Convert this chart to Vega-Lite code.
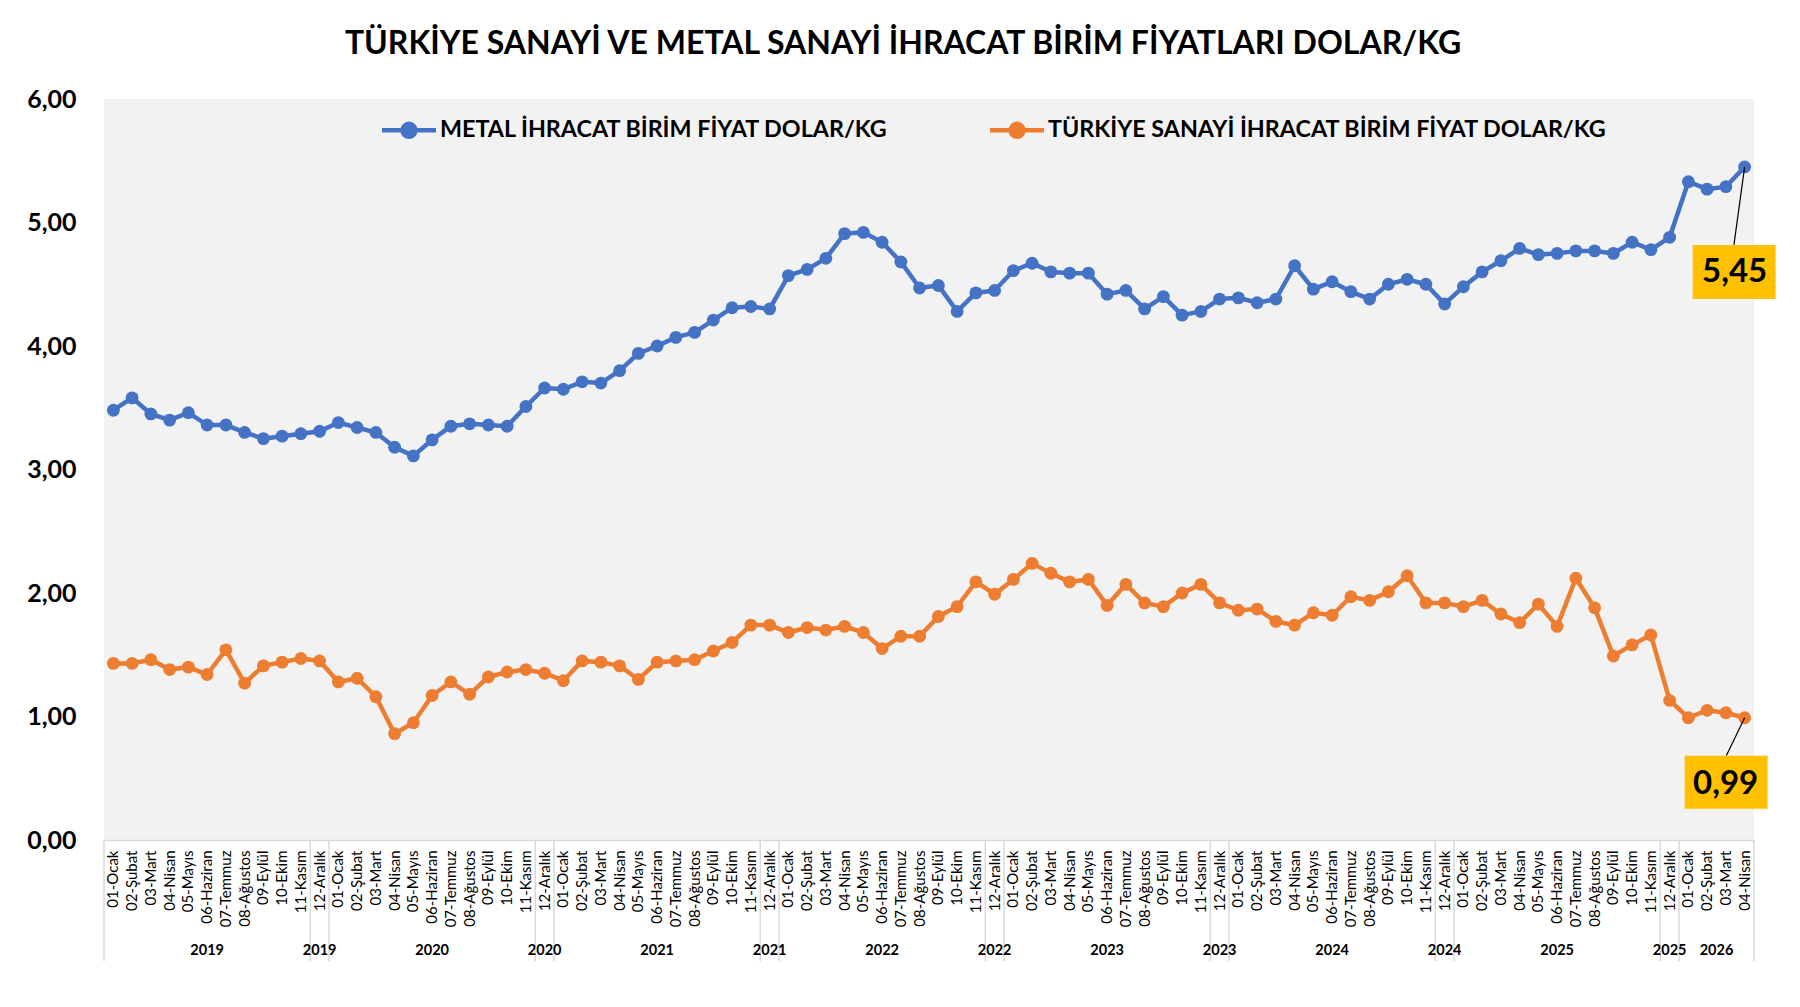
{
  "$schema": "https://vega.github.io/schema/vega-lite/v6.json",
  "autosize": {"type": "none"},
  "width": 1650,
  "height": 741,
  "padding": {"left": 104, "top": 99, "right": 46, "bottom": 167},
  "background": "white",
  "title": {
    "text": "TÜRKİYE SANAYİ VE METAL SANAYİ İHRACAT BİRİM FİYATLARI DOLAR/KG",
    "font": "Lato", "fontSize": 32, "fontWeight": "bold", "color": "#000000",
    "anchor": "middle", "offset": 26, "dx": -26
  },
  "config": {
    "locale": {"number": {"decimal": ",", "thousands": ".", "grouping": [3], "currency": ["", " TL"]}},
    "view": {"fill": "#F2F2F2", "stroke": null},
    "font": "Lato"
  },
  "datasets": {
    "veri": [
      {"ay": "2019-01-Ocak", "metal": 3.48, "sanayi": 1.43},
      {"ay": "2019-02-Şubat", "metal": 3.58, "sanayi": 1.43},
      {"ay": "2019-03-Mart", "metal": 3.45, "sanayi": 1.46},
      {"ay": "2019-04-Nisan", "metal": 3.40, "sanayi": 1.38},
      {"ay": "2019-05-Mayıs", "metal": 3.46, "sanayi": 1.40},
      {"ay": "2019-06-Haziran", "metal": 3.36, "sanayi": 1.34},
      {"ay": "2019-07-Temmuz", "metal": 3.36, "sanayi": 1.54},
      {"ay": "2019-08-Ağustos", "metal": 3.30, "sanayi": 1.27},
      {"ay": "2019-09-Eylül", "metal": 3.25, "sanayi": 1.41},
      {"ay": "2019-10-Ekim", "metal": 3.27, "sanayi": 1.44},
      {"ay": "2019-11-Kasım", "metal": 3.29, "sanayi": 1.47},
      {"ay": "2019-12-Aralık", "metal": 3.31, "sanayi": 1.45},
      {"ay": "2020-01-Ocak", "metal": 3.38, "sanayi": 1.28},
      {"ay": "2020-02-Şubat", "metal": 3.34, "sanayi": 1.31},
      {"ay": "2020-03-Mart", "metal": 3.30, "sanayi": 1.16},
      {"ay": "2020-04-Nisan", "metal": 3.18, "sanayi": 0.86},
      {"ay": "2020-05-Mayıs", "metal": 3.11, "sanayi": 0.95},
      {"ay": "2020-06-Haziran", "metal": 3.24, "sanayi": 1.17},
      {"ay": "2020-07-Temmuz", "metal": 3.35, "sanayi": 1.28},
      {"ay": "2020-08-Ağustos", "metal": 3.37, "sanayi": 1.18},
      {"ay": "2020-09-Eylül", "metal": 3.36, "sanayi": 1.32},
      {"ay": "2020-10-Ekim", "metal": 3.35, "sanayi": 1.36},
      {"ay": "2020-11-Kasım", "metal": 3.51, "sanayi": 1.38},
      {"ay": "2020-12-Aralık", "metal": 3.66, "sanayi": 1.35},
      {"ay": "2021-01-Ocak", "metal": 3.65, "sanayi": 1.29},
      {"ay": "2021-02-Şubat", "metal": 3.71, "sanayi": 1.45},
      {"ay": "2021-03-Mart", "metal": 3.70, "sanayi": 1.44},
      {"ay": "2021-04-Nisan", "metal": 3.80, "sanayi": 1.41},
      {"ay": "2021-05-Mayıs", "metal": 3.94, "sanayi": 1.30},
      {"ay": "2021-06-Haziran", "metal": 4.00, "sanayi": 1.44},
      {"ay": "2021-07-Temmuz", "metal": 4.07, "sanayi": 1.45},
      {"ay": "2021-08-Ağustos", "metal": 4.11, "sanayi": 1.46},
      {"ay": "2021-09-Eylül", "metal": 4.21, "sanayi": 1.53},
      {"ay": "2021-10-Ekim", "metal": 4.31, "sanayi": 1.60},
      {"ay": "2021-11-Kasım", "metal": 4.32, "sanayi": 1.74},
      {"ay": "2021-12-Aralık", "metal": 4.30, "sanayi": 1.74},
      {"ay": "2022-01-Ocak", "metal": 4.57, "sanayi": 1.68},
      {"ay": "2022-02-Şubat", "metal": 4.62, "sanayi": 1.72},
      {"ay": "2022-03-Mart", "metal": 4.71, "sanayi": 1.70},
      {"ay": "2022-04-Nisan", "metal": 4.91, "sanayi": 1.73},
      {"ay": "2022-05-Mayıs", "metal": 4.92, "sanayi": 1.68},
      {"ay": "2022-06-Haziran", "metal": 4.84, "sanayi": 1.55},
      {"ay": "2022-07-Temmuz", "metal": 4.68, "sanayi": 1.65},
      {"ay": "2022-08-Ağustos", "metal": 4.47, "sanayi": 1.65},
      {"ay": "2022-09-Eylül", "metal": 4.49, "sanayi": 1.81},
      {"ay": "2022-10-Ekim", "metal": 4.28, "sanayi": 1.89},
      {"ay": "2022-11-Kasım", "metal": 4.43, "sanayi": 2.09},
      {"ay": "2022-12-Aralık", "metal": 4.45, "sanayi": 1.99},
      {"ay": "2023-01-Ocak", "metal": 4.61, "sanayi": 2.11},
      {"ay": "2023-02-Şubat", "metal": 4.67, "sanayi": 2.24},
      {"ay": "2023-03-Mart", "metal": 4.60, "sanayi": 2.16},
      {"ay": "2023-04-Nisan", "metal": 4.59, "sanayi": 2.09},
      {"ay": "2023-05-Mayıs", "metal": 4.59, "sanayi": 2.11},
      {"ay": "2023-06-Haziran", "metal": 4.42, "sanayi": 1.90},
      {"ay": "2023-07-Temmuz", "metal": 4.45, "sanayi": 2.07},
      {"ay": "2023-08-Ağustos", "metal": 4.30, "sanayi": 1.92},
      {"ay": "2023-09-Eylül", "metal": 4.40, "sanayi": 1.89},
      {"ay": "2023-10-Ekim", "metal": 4.25, "sanayi": 2.00},
      {"ay": "2023-11-Kasım", "metal": 4.28, "sanayi": 2.07},
      {"ay": "2023-12-Aralık", "metal": 4.38, "sanayi": 1.92},
      {"ay": "2024-01-Ocak", "metal": 4.39, "sanayi": 1.86},
      {"ay": "2024-02-Şubat", "metal": 4.35, "sanayi": 1.87},
      {"ay": "2024-03-Mart", "metal": 4.38, "sanayi": 1.77},
      {"ay": "2024-04-Nisan", "metal": 4.65, "sanayi": 1.74},
      {"ay": "2024-05-Mayıs", "metal": 4.46, "sanayi": 1.84},
      {"ay": "2024-06-Haziran", "metal": 4.52, "sanayi": 1.82},
      {"ay": "2024-07-Temmuz", "metal": 4.44, "sanayi": 1.97},
      {"ay": "2024-08-Ağustos", "metal": 4.38, "sanayi": 1.94},
      {"ay": "2024-09-Eylül", "metal": 4.50, "sanayi": 2.01},
      {"ay": "2024-10-Ekim", "metal": 4.54, "sanayi": 2.14},
      {"ay": "2024-11-Kasım", "metal": 4.50, "sanayi": 1.92},
      {"ay": "2024-12-Aralık", "metal": 4.34, "sanayi": 1.92},
      {"ay": "2025-01-Ocak", "metal": 4.48, "sanayi": 1.89},
      {"ay": "2025-02-Şubat", "metal": 4.60, "sanayi": 1.94},
      {"ay": "2025-03-Mart", "metal": 4.69, "sanayi": 1.83},
      {"ay": "2025-04-Nisan", "metal": 4.79, "sanayi": 1.76},
      {"ay": "2025-05-Mayıs", "metal": 4.74, "sanayi": 1.91},
      {"ay": "2025-06-Haziran", "metal": 4.75, "sanayi": 1.73},
      {"ay": "2025-07-Temmuz", "metal": 4.77, "sanayi": 2.12},
      {"ay": "2025-08-Ağustos", "metal": 4.77, "sanayi": 1.88},
      {"ay": "2025-09-Eylül", "metal": 4.75, "sanayi": 1.49},
      {"ay": "2025-10-Ekim", "metal": 4.84, "sanayi": 1.58},
      {"ay": "2025-11-Kasım", "metal": 4.78, "sanayi": 1.66},
      {"ay": "2025-12-Aralık", "metal": 4.88, "sanayi": 1.13},
      {"ay": "2026-01-Ocak", "metal": 5.33, "sanayi": 0.99},
      {"ay": "2026-02-Şubat", "metal": 5.27, "sanayi": 1.05},
      {"ay": "2026-03-Mart", "metal": 5.29, "sanayi": 1.03},
      {"ay": "2026-04-Nisan", "metal": 5.45, "sanayi": 0.99}
    ],
    "yillar": [
      {"yil": "2019", "ay": "2019-06-Haziran"},
      {"yil": "2019", "ay": "2019-12-Aralık"},
      {"yil": "2020", "ay": "2020-06-Haziran"},
      {"yil": "2020", "ay": "2020-12-Aralık"},
      {"yil": "2021", "ay": "2021-06-Haziran"},
      {"yil": "2021", "ay": "2021-12-Aralık"},
      {"yil": "2022", "ay": "2022-06-Haziran"},
      {"yil": "2022", "ay": "2022-12-Aralık"},
      {"yil": "2023", "ay": "2023-06-Haziran"},
      {"yil": "2023", "ay": "2023-12-Aralık"},
      {"yil": "2024", "ay": "2024-06-Haziran"},
      {"yil": "2024", "ay": "2024-12-Aralık"},
      {"yil": "2025", "ay": "2025-06-Haziran"},
      {"yil": "2025", "ay": "2025-12-Aralık"}
    ],
    "yil2026": [
      {"yil": "2026", "ay": "2026-03-Mart"}
    ],
    "ayraclar": [
      {"ay": "2019-01-Ocak"}, {"ay": "2019-12-Aralık"},
      {"ay": "2020-01-Ocak"}, {"ay": "2020-12-Aralık"},
      {"ay": "2021-01-Ocak"}, {"ay": "2021-12-Aralık"},
      {"ay": "2022-01-Ocak"}, {"ay": "2022-12-Aralık"},
      {"ay": "2023-01-Ocak"}, {"ay": "2023-12-Aralık"},
      {"ay": "2024-01-Ocak"}, {"ay": "2024-12-Aralık"},
      {"ay": "2025-01-Ocak"}, {"ay": "2025-12-Aralık"},
      {"ay": "2026-01-Ocak"}
    ],
    "sonayrac": [
      {"ay": "2026-04-Nisan"}
    ]
  },
  "layer": [
    {
      "data": {"name": "ayraclar"},
      "mark": {"type": "rule", "color": "#D9D9D9", "strokeWidth": 1.5},
      "encoding": {
        "x": {"field": "ay", "type": "ordinal", "bandPosition": 0},
        "y": {"datum": 0, "type": "quantitative"},
        "y2": {"datum": -0.98}
      }
    },
    {
      "data": {"name": "sonayrac"},
      "mark": {"type": "rule", "color": "#D9D9D9", "strokeWidth": 1.5},
      "encoding": {
        "x": {"field": "ay", "type": "ordinal", "bandPosition": 1},
        "y": {"datum": 0, "type": "quantitative"},
        "y2": {"datum": -0.98}
      }
    },
    {
      "data": {"name": "veri"},
      "transform": [{"fold": ["metal", "sanayi"], "as": ["seri", "deger"]}],
      "mark": {"type": "line", "strokeWidth": 4.5, "point": {"filled": true, "size": 165, "opacity": 1}},
      "encoding": {
        "x": {
          "field": "ay", "type": "ordinal",
          "scale": {"paddingInner": 0, "paddingOuter": 0},
          "axis": {
            "title": null,
            "labelExpr": "slice(datum.value, 5)",
            "labelAngle": -90,
            "labelFont": "Lato", "labelFontSize": 15, "labelColor": "#000000",
            "labelPadding": 10,
            "ticks": false,
            "domainColor": "#D9D9D9",
            "domainWidth": 1.5,
            "grid": false,
            "labelOverlap": false
          }
        },
        "y": {
          "field": "deger", "type": "quantitative",
          "scale": {"domain": [0, 6], "nice": false},
          "axis": {
            "title": null, "format": ".2f", "values": [0, 1, 2, 3, 4, 5, 6],
            "labelFont": "Lato", "labelFontSize": 25, "labelFontWeight": "bold", "labelColor": "#000000",
            "labelPadding": 28, "ticks": false, "domain": false,
            "gridColor": "#D9D9D9", "gridWidth": 1.5
          }
        },
        "color": {
          "field": "seri", "type": "nominal",
          "scale": {"domain": ["metal", "sanayi"], "range": ["#4472C4", "#ED7D31"]},
          "legend": {
            "orient": "none", "legendX": 292, "legendY": 18, "direction": "horizontal", "title": null,
            "labelFont": "Lato", "labelFontSize": 23.3, "labelFontWeight": "bold", "labelColor": "#000000",
            "labelExpr": "datum.value == 'metal' ? 'METAL İHRACAT BİRİM FİYAT DOLAR/KG' : 'TÜRKİYE SANAYİ İHRACAT BİRİM FİYAT DOLAR/KG'",
            "labelLimit": 1000,
            "symbolType": "M-2.6,0L2.6,0M-0.62,0A0.62,0.62,0,1,0,0.62,0A0.62,0.62,0,1,0,-0.62,0",
            "symbolSize": 432, "symbolStrokeWidth": 4.5, "labelOffset": 18, "columnPadding": 91,
            "encode": {"symbols": {"update": {"fill": {"scale": "color", "field": "value"}, "stroke": {"scale": "color", "field": "value"}, "opacity": {"value": 1}}}}
          }
        }
      }
    },
    {
      "data": {"name": "veri"},
      "transform": [{"filter": "datum.ay == '2026-04-Nisan'"}],
      "layer": [
        {"mark": {"type": "point", "shape": "M0,0L-0.214,1.56", "size": 10000, "filled": false, "color": "#000000", "strokeWidth": 1.2, "opacity": 1},
         "encoding": {"x": {"field": "ay", "type": "ordinal"}, "y": {"field": "metal", "type": "quantitative"}}},
        {"mark": {"type": "point", "shape": "M-1.04,1.56L0.62,1.56L0.62,2.64L-1.04,2.64Z", "size": 10000, "filled": true, "color": "#FFC000", "strokeWidth": 0, "opacity": 1},
         "encoding": {"x": {"field": "ay", "type": "ordinal"}, "y": {"field": "metal", "type": "quantitative"}}},
        {"mark": {"type": "text", "dx": -10, "dy": 105, "font": "Lato", "fontSize": 33, "fontWeight": "bold", "color": "#000000", "align": "center", "baseline": "middle"},
         "encoding": {"x": {"field": "ay", "type": "ordinal"}, "y": {"field": "metal", "type": "quantitative"}, "text": {"field": "metal", "type": "quantitative", "format": ".2f"}}},
        {"mark": {"type": "point", "shape": "M0,0L-0.366,0.76", "size": 10000, "filled": false, "color": "#000000", "strokeWidth": 1.2, "opacity": 1},
         "encoding": {"x": {"field": "ay", "type": "ordinal"}, "y": {"field": "sanayi", "type": "quantitative"}}},
        {"mark": {"type": "point", "shape": "M-1.2,0.76L0.46,0.76L0.46,1.82L-1.2,1.82Z", "size": 10000, "filled": true, "color": "#FFC000", "strokeWidth": 0, "opacity": 1},
         "encoding": {"x": {"field": "ay", "type": "ordinal"}, "y": {"field": "sanayi", "type": "quantitative"}}},
        {"mark": {"type": "text", "dx": -19, "dy": 66, "font": "Lato", "fontSize": 33, "fontWeight": "bold", "color": "#000000", "align": "center", "baseline": "middle"},
         "encoding": {"x": {"field": "ay", "type": "ordinal"}, "y": {"field": "sanayi", "type": "quantitative"}, "text": {"field": "sanayi", "type": "quantitative", "format": ".2f"}}}
      ]
    },
    {
      "data": {"name": "yillar"},
      "mark": {"type": "text", "dy": 111, "font": "Lato", "fontSize": 14.5, "fontWeight": "bold", "color": "#000000", "align": "center", "baseline": "middle"},
      "encoding": {
        "x": {"field": "ay", "type": "ordinal"},
        "y": {"datum": 0, "type": "quantitative"},
        "text": {"field": "yil", "type": "nominal"}
      }
    },
    {
      "data": {"name": "yil2026"},
      "mark": {"type": "text", "dy": 111, "font": "Lato", "fontSize": 14.5, "fontWeight": "bold", "color": "#000000", "align": "center", "baseline": "middle"},
      "encoding": {
        "x": {"field": "ay", "type": "ordinal", "bandPosition": 0},
        "y": {"datum": 0, "type": "quantitative"},
        "text": {"field": "yil", "type": "nominal"}
      }
    }
  ]
}
